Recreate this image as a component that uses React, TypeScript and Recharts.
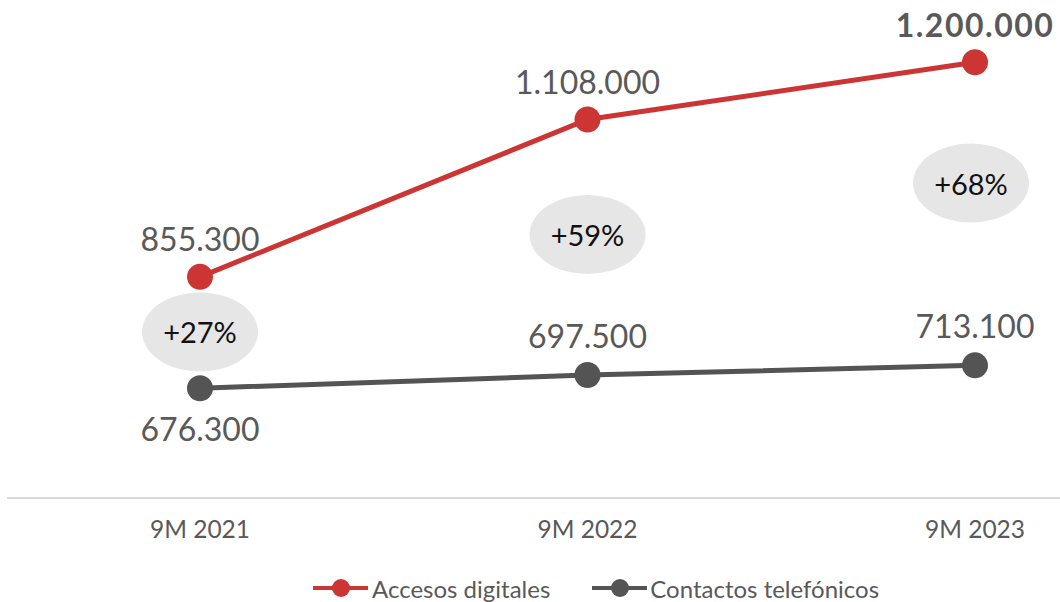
import React from 'react';
import { LineChart, Line, XAxis, YAxis, Legend, LabelList } from 'recharts';

// Periods on the x axis
const periods = ['9M 2021', '9M 2022', '9M 2023'];

// Series values
const accesosDigitales = [855300, 1108000, 1200000];
const contactosTelefonicos = [676300, 697500, 713100];

// Growth bubbles: text and the height (in data units) where each bubble sits
const growthLabels = ['+27%', '+59%', '+68%'];
const growthPos = [766700, 923300, 1006000];

// Where each series label goes relative to its point
const phoneLabelSide = ['bottom', 'top', 'top'];

const RED = '#CD3434';
const GRAY = '#545454';
const TEXT = '#595959';
const FONT = 'Lato, "Open Sans", sans-serif';

const data = periods.map((p, i) => ({
  period: p,
  digital: accesosDigitales[i],
  phone: contactosTelefonicos[i],
  growth: growthPos[i],
}));

const fmt = (v: number) => String(v).replace(/\B(?=(\d{3})+(?!\d))/g, '.');

const DigitalLabel = (props: any) => {
  const { x, y, value, index } = props;
  const last = index === accesosDigitales.length - 1;
  return (
    <text
      x={x}
      y={y - 38}
      textAnchor="middle"
      dominantBaseline="central"
      fontSize={32}
      fontWeight={last ? 700 : 400}
      letterSpacing={last ? 1.5 : 0}
      fill={TEXT}
      fontFamily={FONT}
    >
      {fmt(value)}
    </text>
  );
};

const PhoneLabel = (props: any) => {
  const { x, y, value, index } = props;
  const below = phoneLabelSide[index] === 'bottom';
  return (
    <text
      x={x}
      y={below ? y + 40 : y - 40}
      textAnchor="middle"
      dominantBaseline="central"
      fontSize={32}
      fill={TEXT}
      fontFamily={FONT}
    >
      {fmt(value)}
    </text>
  );
};

const GrowthBubble = (props: any) => {
  const { cx, cy, index } = props;
  const x = cx - (index === 2 ? 4 : 0);
  return (
    <g key={`bubble-${index}`}>
      <ellipse cx={x} cy={cy} rx={58} ry={39.5} fill="#E6E6E6" />
      <text
        x={x}
        y={cy}
        textAnchor="middle"
        dominantBaseline="central"
        fontSize={29}
        fill="#111"
        fontFamily={FONT}
      >
        {growthLabels[index]}
      </text>
    </g>
  );
};

const LegendIcon = ({ color }: { color: string }) => (
  <svg width={55} height={20} style={{ display: 'block' }}>
    <line x1={0} y1={10} x2={55} y2={10} stroke={color} strokeWidth={4} />
    <circle cx={28} cy={10} r={9} fill={color} />
  </svg>
);

const CustomLegend = () => (
  <div
    style={{
      display: 'flex',
      alignItems: 'center',
      height: 28,
      paddingLeft: 306,
      fontFamily: FONT,
      fontSize: 24,
      color: TEXT,
    }}
  >
    <LegendIcon color={RED} />
    <span style={{ marginLeft: 4, marginRight: 42 }}>Accesos digitales</span>
    <LegendIcon color={GRAY} />
    <span style={{ marginLeft: 3 }}>Contactos telefónicos</span>
  </div>
);

const App: React.FC = () => {
  return (
    <div style={{ position: 'absolute', left: 0, top: 0, width: 1060, height: 602, background: '#fff' }}>
      <LineChart width={1060} height={602} data={data} margin={{ top: 0, right: 0, bottom: 0, left: 7 }}>
        <XAxis
          dataKey="period"
          height={76}
          padding={{ left: 193, right: 85 }}
          axisLine={{ stroke: '#D9D9D9', strokeWidth: 2 }}
          tickLine={false}
          tickMargin={17}
          tick={{ fill: TEXT, fontSize: 24.5, fontFamily: FONT }}
        />
        <YAxis hide domain={[500000, 1300000]} />
        <Legend verticalAlign="bottom" height={28} content={<CustomLegend />} />
        <Line
          dataKey="growth"
          stroke="none"
          legendType="none"
          dot={<GrowthBubble />}
          activeDot={false}
          isAnimationActive={false}
        />
        <Line
          dataKey="digital"
          name="Accesos digitales"
          stroke={RED}
          strokeWidth={5}
          dot={{ r: 13, fill: RED, stroke: 'none' }}
          activeDot={false}
          isAnimationActive={false}
        >
          <LabelList dataKey="digital" content={<DigitalLabel />} />
        </Line>
        <Line
          dataKey="phone"
          name="Contactos telefónicos"
          stroke={GRAY}
          strokeWidth={5}
          dot={{ r: 13, fill: GRAY, stroke: 'none' }}
          activeDot={false}
          isAnimationActive={false}
        >
          <LabelList dataKey="phone" content={<PhoneLabel />} />
        </Line>
      </LineChart>
    </div>
  );
};

export default App;
